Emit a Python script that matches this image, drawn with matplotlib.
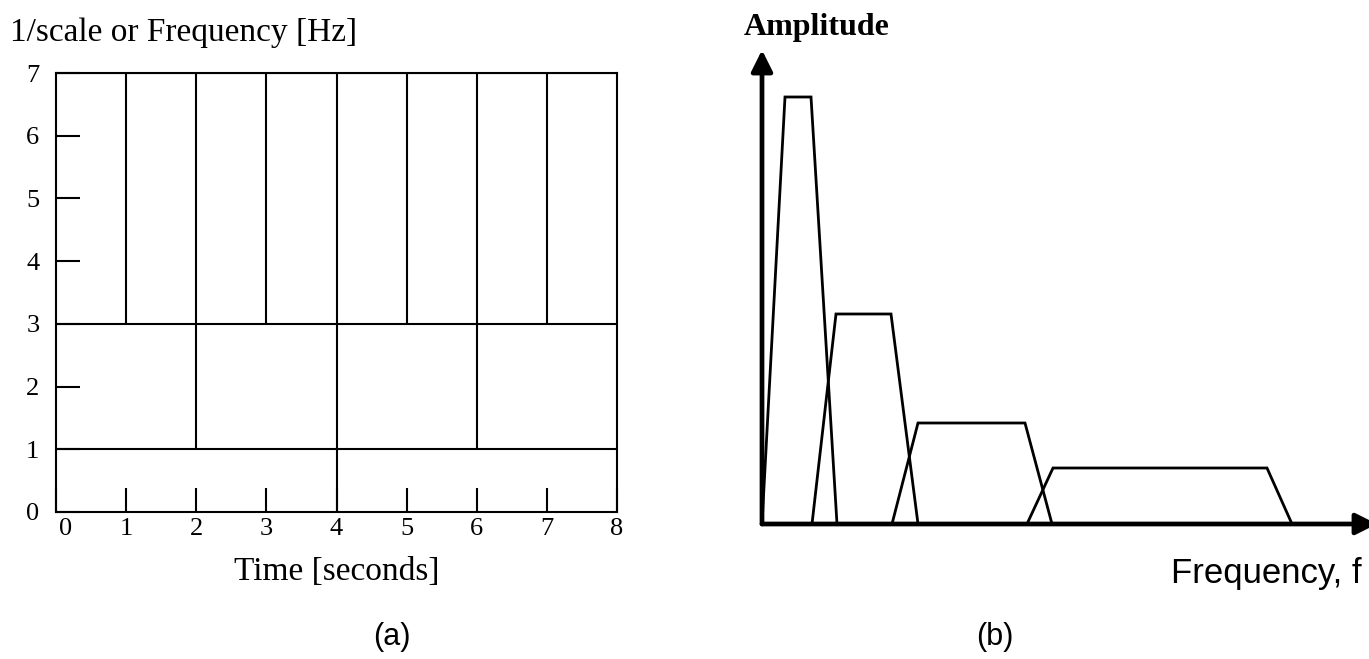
import matplotlib.pyplot as plt
import matplotlib.transforms as mtransforms
import numpy as np

# --- dados ---
# (a) grade tempo-escala: limites das faixas de frequencia e cortes no tempo
band_edges = [0, 1, 3, 7]
band_cuts = [[4], [2, 4, 6], [1, 2, 3, 4, 5, 6, 7]]
time_ticks = [0, 1, 2, 3, 4, 5, 6, 7, 8]
freq_ticks = [0, 1, 2, 3, 4, 5, 6, 7]

# (b) espectros trapezoidais de cada faixa (freq. em unidades arbitrarias)
trap_x = [
    [0.0, 2.3, 4.9, 7.5],
    [5.0, 7.4, 12.9, 15.6],
    [13.0, 15.6, 26.3, 29.0],
    [26.5, 29.1, 50.5, 53.0],
]
trap_amp = [42.7, 21.0, 10.1, 5.6]

W, H = 1369, 659
fig = plt.figure(figsize=(W / 100, H / 100), dpi=100)

def px_axes(x0, y0, x1, y1):
    # eixos posicionados em pixels (y medido de cima)
    return fig.add_axes([x0 / W, (H - y1) / H, (x1 - x0) / W, (y1 - y0) / H])

serif = 'Liberation Serif'
sans = 'Liberation Sans'

# --- (a) ---
ax = px_axes(56, 73, 617, 512)
ax.set_xlim(0, 8)
ax.set_ylim(0, 7)
lw = 1.5
for sp in ax.spines.values():
    sp.set_linewidth(lw)

for lo, hi, cuts in zip(band_edges[:-1], band_edges[1:], band_cuts):
    ax.hlines(hi, 0, 8, color='black', lw=lw)
    ax.vlines(cuts, lo, hi, color='black', lw=lw)

ax.set_xticks(time_ticks)
ax.set_yticks(freq_ticks)
ax.tick_params(direction='in', length=17, width=lw, labelsize=19, pad=4)
ax.tick_params(axis='y', pad=12)
for lab in ax.get_xticklabels() + ax.get_yticklabels():
    lab.set_family(serif)

# o "0" do eixo do tempo fica um pouco para dentro
lab0 = ax.get_xticklabels()[0]
lab0.set_transform(lab0.get_transform() +
                   mtransforms.ScaledTranslation(0.10, 0, fig.dpi_scale_trans))

ax.set_xlabel('Time [seconds]', fontsize=24, family=serif, labelpad=12)
fig.text(10 / W, 1 - 33 / H, '1/scale or Frequency [Hz]', fontsize=24,
         family=serif, ha='left', va='center')
fig.text(392 / W, 1 - 637 / H, '(a)', fontsize=22, family=sans,
         ha='center', va='center')

# --- (b) ---
bx = px_axes(762, 44, 1369, 524)
bx.set_xlim(0, 60.7)
bx.set_ylim(0, 48)
bx.axis('off')

for xs, a in zip(trap_x, trap_amp):
    bx.plot(xs, [0, a, a, 0], color='black', lw=2.0, solid_joinstyle='miter')

# eixos com setas
bx.annotate('', xy=(0, 47.4), xytext=(0, 0),
            arrowprops=dict(arrowstyle='-|>', lw=3.4, color='black',
                            mutation_scale=32, shrinkA=0, shrinkB=0),
            annotation_clip=False)
bx.annotate('', xy=(61.5, 0), xytext=(0, 0),
            arrowprops=dict(arrowstyle='-|>', lw=3.4, color='black',
                            mutation_scale=32, shrinkA=0, shrinkB=0),
            annotation_clip=False)

fig.text(817 / W, 1 - 27 / H, 'Amplitude', fontsize=23, family=serif,
         weight='bold', ha='center', va='center')
fig.text(1362 / W, 1 - 573 / H, 'Frequency, f', fontsize=25, family=sans,
         ha='right', va='center')
fig.text(995 / W, 1 - 637 / H, '(b)', fontsize=22, family=sans,
         ha='center', va='center')

plt.savefig('out.png', dpi=100)
